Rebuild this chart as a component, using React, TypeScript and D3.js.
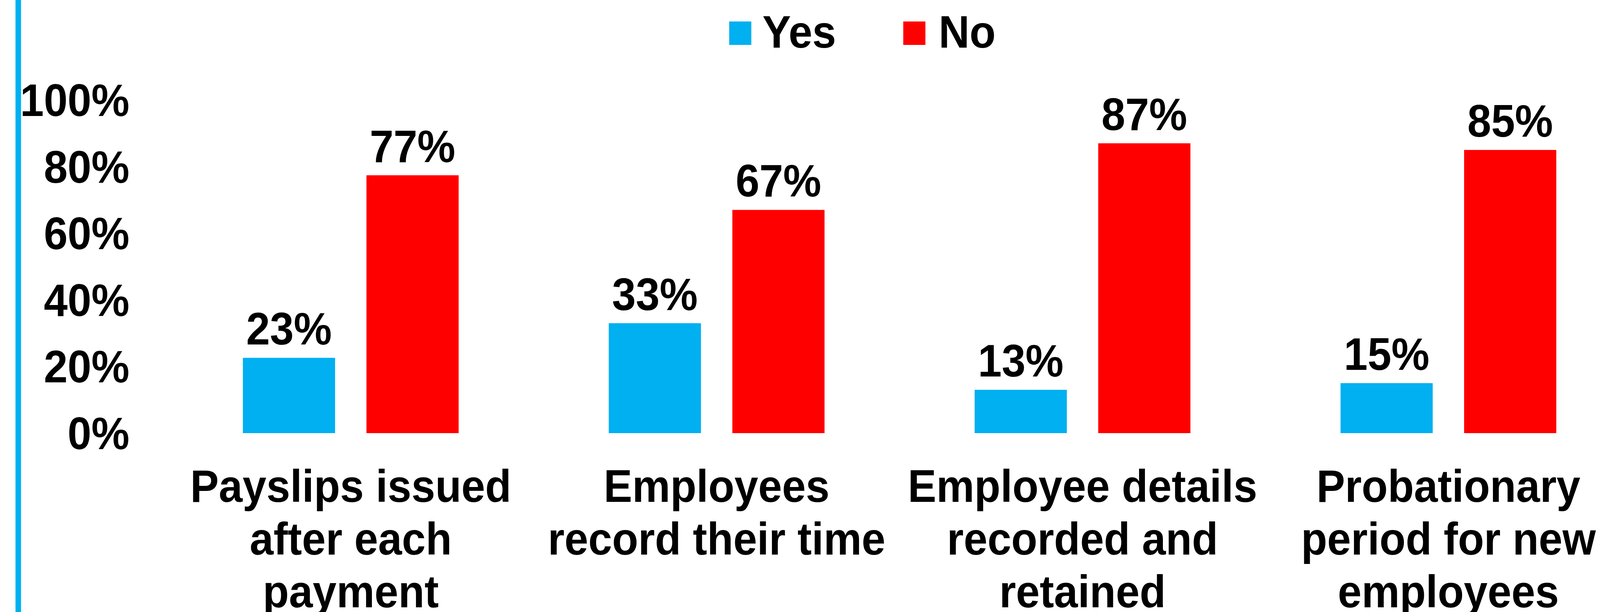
import React, { useEffect } from "react";
import * as d3 from "d3";

const categories = [
  "Payslips issued after each payment",
  "Employees record their time",
  "Employee details recorded and retained",
  "Probationary period for new employees",
];
const categoryLines = [
  ["Payslips issued", "after each", "payment"],
  ["Employees", "record their time"],
  ["Employee details", "recorded and", "retained"],
  ["Probationary", "period for new", "employees"],
];
const seriesNames = ["Yes", "No"];
const yesValues = [22.6, 33, 13, 15];
const noValues = [77.4, 67, 87, 85];
const yTicks = [0, 20, 40, 60, 80, 100];

const W = 4338;
const H = 1567;
const FONT = "'Liberation Sans', Arial, Helvetica, sans-serif";
const FS = 116;
const COLORS: Record<string, string> = { Yes: "#00B0F0", No: "#FF0000" };

export default function App() {
  useEffect(() => {
    document.body.style.margin = "0";
    document.body.style.overflow = "hidden";
    document.documentElement.style.overflow = "hidden";
  }, []);

  const x0 = d3.scaleBand<string>().domain(categories).range([455, 4423]).padding(0);
  const x1 = d3
    .scaleBand<string>()
    .domain(seriesNames)
    .range([203.5, 788.5])
    .paddingInner(0.254)
    .paddingOuter(0);
  const y = d3.scaleLinear().domain([0, 100]).range([1109, 256]);

  const series = [
    { name: "Yes", values: yesValues },
    { name: "No", values: noValues },
  ];

  return (
    <svg
      viewBox={`0 0 ${W} ${H}`}
      preserveAspectRatio="none"
      style={{
        position: "fixed",
        left: 0,
        top: 0,
        width: "100vw",
        height: "100vh",
        background: "#fff",
        display: "block",
      }}
      fontFamily={FONT}
      fontWeight="bold"
    >
      <rect x={0} y={0} width={W} height={H} fill="#fff" />
      {/* left accent line */}
      <rect x={42} y={0} width={15} height={H} fill="#00B0F0" />

      {/* legend */}
      {seriesNames.map((n, i) => {
        const sx = i === 0 ? 1977 : 2449;
        const tx = i === 0 ? 2067 : 2545;
        return (
          <g key={n}>
            <rect x={sx} y={55} width={60} height={60} fill={COLORS[n]} />
            <text x={tx} y={122} fontSize={FS} fill="#000">
              {n}
            </text>
          </g>
        );
      })}

      {/* y tick labels */}
      {yTicks.map((t) => (
        <text key={t} x={351} y={y(t) + 41} fontSize={FS} textAnchor="end" fill="#000">
          {`${t}%`}
        </text>
      ))}

      {/* bars */}
      {series.map((s) =>
        categories.map((c, i) => {
          const v = s.values[i];
          const bx = (x0(c) ?? 0) + (x1(s.name) ?? 0);
          const bw = x1.bandwidth();
          return (
            <g key={s.name + c}>
              <rect x={bx} y={y(v)} width={bw} height={y(0) - y(v)} fill={COLORS[s.name]} />
              <text x={bx + bw / 2} y={y(v) - 34} fontSize={FS} textAnchor="middle" fill="#000">
                {`${Math.round(v)}%`}
              </text>
            </g>
          );
        })
      )}

      {/* category labels */}
      {categories.map((c, i) => {
        const cx = (x0(c) ?? 0) + x0.bandwidth() / 2;
        return (
          <text key={c} x={cx} y={1285} fontSize={FS} textAnchor="middle" fill="#000">
            {categoryLines[i].map((ln, j) => (
              <tspan key={j} x={cx} y={1285 + j * 135}>
                {ln}
              </tspan>
            ))}
          </text>
        );
      })}
    </svg>
  );
}
